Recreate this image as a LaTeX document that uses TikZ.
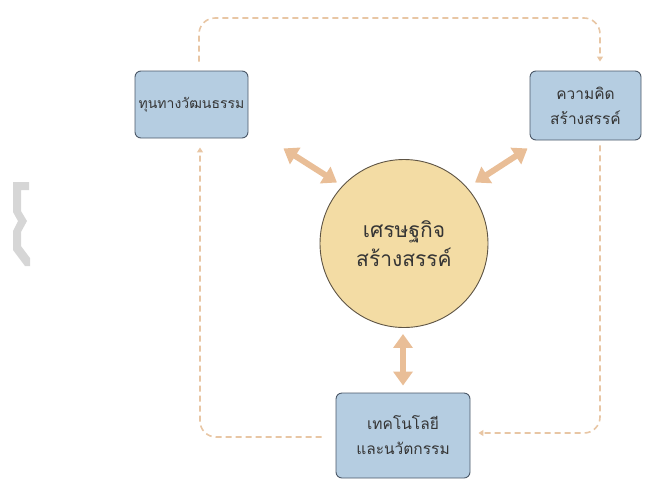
\documentclass[tikz,border=0pt]{standalone}
\usepackage{fontspec}
\newfontfamily\thaifont[Script=Thai]{Loma}
\usetikzlibrary{arrows.meta,calc}
\definecolor{boxfill}{HTML}{B5CDE1}
\definecolor{boxline}{HTML}{4B5868}
\definecolor{circfill}{HTML}{F3DCA4}
\definecolor{circline}{HTML}{5E5444}
\definecolor{arrowc}{HTML}{E9BE97}
\definecolor{dashc}{HTML}{E8C6A4}
\definecolor{txt}{HTML}{353535}
\definecolor{logo}{HTML}{D6D6D6}
\tikzset{
  box/.style={draw=boxline, line width=0.9pt, fill=boxfill, rounded corners=6pt,
    align=center, text=txt, font=\thaifont\fontsize{15.5}{25}\selectfont, inner sep=0pt},
  smallbox/.style={box, font=\thaifont\fontsize{14}{25}\selectfont},
  circ/.style={circle, draw=circline, line width=0.9pt, fill=circfill, minimum size=168pt,
    align=center, text=txt, font=\thaifont\fontsize{21}{29}\selectfont, inner sep=0pt},
  dbl/.style={draw=arrowc, line width=6pt,
    {Triangle[width=19pt,length=14pt]}-{Triangle[width=19pt,length=14pt]}},
  flow/.style={draw=dashc, line width=1.6pt, dash pattern=on 6pt off 4pt,
    rounded corners=16pt, -{Triangle[width=6pt,length=5pt]}}
}
\begin{document}
\begin{tikzpicture}[x=1pt,y=-1pt]
\useasboundingbox (0,0) rectangle (655,480);
% grey logo fragment
\fill[logo] (13,182) -- (29,182) -- (29,190) -- (21,190) -- (21,211) -- (27,221) -- (21,232) -- (21,246) -- (30,258) -- (30,266) -- (25,266) -- (13,250) -- (13,231) -- (18,221) -- (13,212) -- cycle;
% nodes
\node[smallbox, minimum width=113pt, minimum height=67pt] (lb) at (191.5,104.5) {ทุนทางวัฒนธรรม};
\node[box, minimum width=111pt, minimum height=69pt] (rb) at (585.5,105.5) {ความคิด\\สร้างสรรค์};
\node[box, minimum width=134pt, minimum height=85pt] (bb) at (403,435.5) {เทคโนโลยี\\และนวัตกรรม};
\node[circ] (c) at (404,243.5) {เศรษฐกิจ\\สร้างสรรค์};
% dashed flow connectors
\coordinate (t1) at ($(lb.north)+(7.5,-9)$);
\coordinate (t2) at ($(rb.north)+(14.5,-9)$);
\draw[flow] (t1) -- (t1 |- 0,18) -- (t2 |- 0,18) -- (t2);
\coordinate (r1) at ($(rb.south)+(14.5,5)$);
\coordinate (r2) at ($(bb.east)+(8,-2.5)$);
\draw[flow] (r1) -- (r1 |- r2) -- (r2);
\coordinate (l1) at ($(bb.west)+(-14,1.5)$);
\coordinate (l2) at ($(lb.south)+(8.5,9)$);
\draw[flow] (l1) -- (l2 |- l1) -- (l2);
% double arrows
\draw[dbl] ($(lb.south east)+(35,10)$) -- ($(c.center)+(-67,-61)$);
\draw[dbl] ($(rb.south west)+(-2,8)$) -- ($(c.center)+(71,-61)$);
\draw[dbl] ($(c.south)+(-1,6)$) -- ($(bb.north)+(0,-7)$);
\end{tikzpicture}
\end{document}
